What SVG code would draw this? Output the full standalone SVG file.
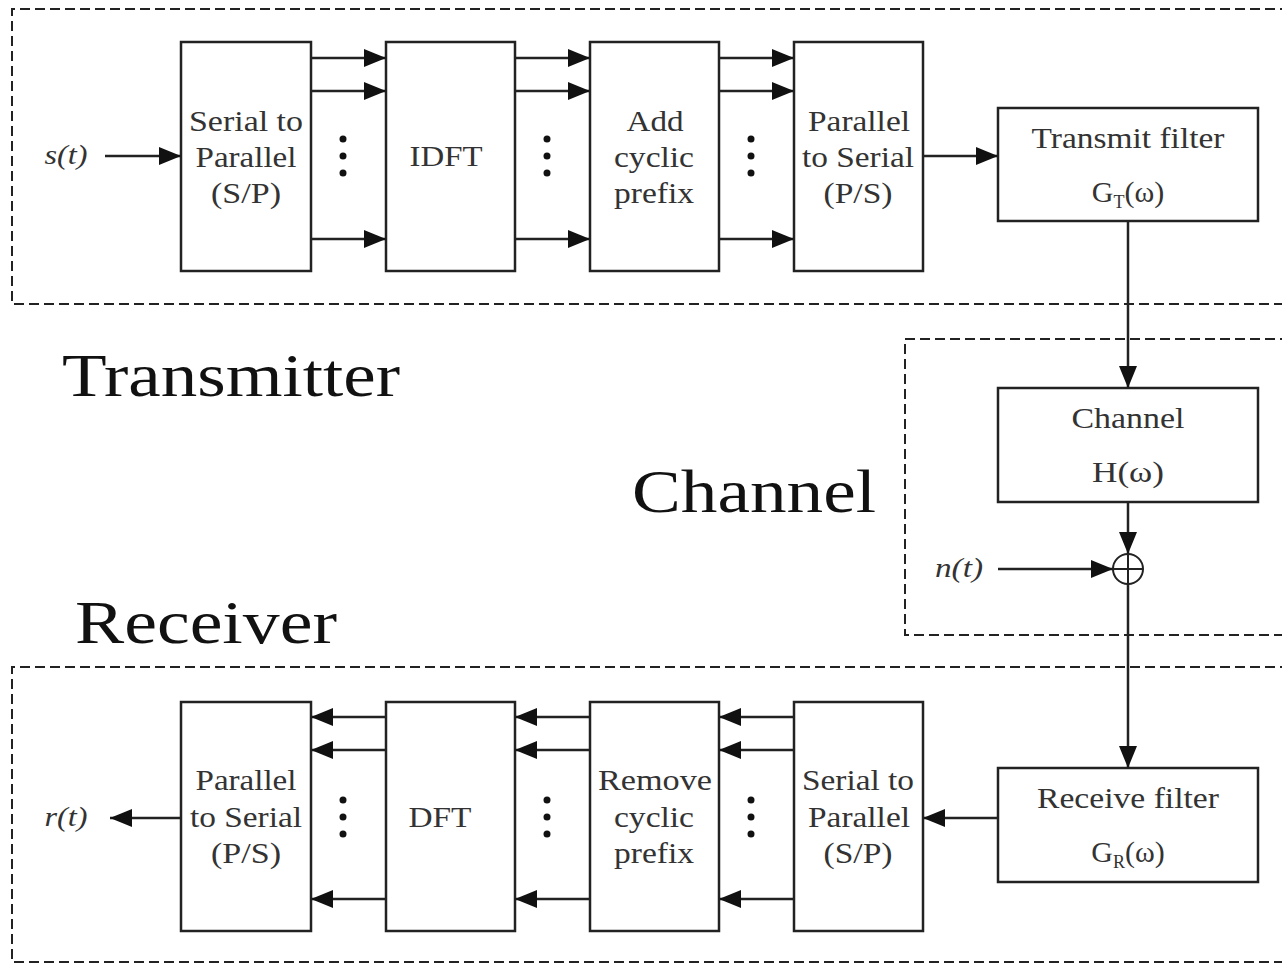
<svg xmlns="http://www.w3.org/2000/svg" width="1282" height="964" viewBox="0 0 1282 964">
<style>
.dash{fill:none;stroke:#222;stroke-width:2;stroke-dasharray:10 5}
.box{fill:#fff;stroke:#222;stroke-width:2.5}
.ln{fill:none;stroke:#222;stroke-width:2.5}
.t{font-family:"Liberation Serif","Times New Roman",serif;font-size:30px;fill:#333;text-anchor:middle}
.it{font-family:"Liberation Serif","Times New Roman",serif;font-size:27px;font-style:italic;fill:#333;text-anchor:middle}
.big{font-family:"Liberation Serif","Times New Roman",serif;font-size:62px;fill:#111}
.dot{fill:#111}
</style>
<defs>
<marker id="ah" viewBox="0 0 22 18" refX="22" refY="9" markerWidth="22" markerHeight="18" markerUnits="userSpaceOnUse" orient="auto">
<path d="M0,0 L22,9 L0,18 Z" fill="#111"/>
</marker>
</defs>
<rect width="1282" height="964" fill="#fff"/>

<!-- section frames -->
<g id="frames">
<path class="dash" d="M1290,9 H12 V304 H1290"/>
<path class="dash" d="M1290,339 H905 V635 H1290"/>
<path class="dash" d="M1290,667 H12 V962 H1290"/>
</g>

<g id="labels">
<text class="big" x="62" y="396" textLength="338" lengthAdjust="spacingAndGlyphs">Transmitter</text>
<text class="big" x="632" y="512" textLength="244" lengthAdjust="spacingAndGlyphs">Channel</text>
<text class="big" x="75" y="643" textLength="262" lengthAdjust="spacingAndGlyphs">Receiver</text>
<text class="it" x="66" y="164" textLength="43" lengthAdjust="spacingAndGlyphs">s(t)</text>
<text class="it" x="66" y="826" textLength="43" lengthAdjust="spacingAndGlyphs">r(t)</text>
<text class="it" x="959" y="577" textLength="48" lengthAdjust="spacingAndGlyphs">n(t)</text>
</g>

<!-- transmitter nodes -->
<g id="tx-sp">
<rect class="box" x="181" y="42" width="130" height="229"/>
<text class="t" x="246" y="131" textLength="114" lengthAdjust="spacingAndGlyphs">Serial to</text>
<text class="t" x="246" y="167" textLength="101" lengthAdjust="spacingAndGlyphs">Parallel</text>
<text class="t" x="246" y="203" textLength="70" lengthAdjust="spacingAndGlyphs">(S/P)</text>
</g>
<g id="tx-idft">
<rect class="box" x="386" y="42" width="129" height="229"/>
<text class="t" x="446" y="166" textLength="73" lengthAdjust="spacingAndGlyphs">IDFT</text>
</g>
<g id="tx-acp">
<rect class="box" x="590" y="42" width="129" height="229"/>
<text class="t" x="655" y="131" textLength="57" lengthAdjust="spacingAndGlyphs">Add</text>
<text class="t" x="654" y="167" textLength="80" lengthAdjust="spacingAndGlyphs">cyclic</text>
<text class="t" x="654" y="203" textLength="80" lengthAdjust="spacingAndGlyphs">prefix</text>
</g>
<g id="tx-ps">
<rect class="box" x="794" y="42" width="129" height="229"/>
<text class="t" x="859" y="131" textLength="102" lengthAdjust="spacingAndGlyphs">Parallel</text>
<text class="t" x="858" y="167" textLength="112" lengthAdjust="spacingAndGlyphs">to Serial</text>
<text class="t" x="858" y="203" textLength="69" lengthAdjust="spacingAndGlyphs">(P/S)</text>
</g>
<g id="tx-filter">
<rect class="box" x="998" y="108" width="260" height="113"/>
<text class="t" x="1128" y="148" textLength="193" lengthAdjust="spacingAndGlyphs">Transmit filter</text>
<text class="t" x="1128" y="202">G<tspan font-size="18" dy="6">T</tspan><tspan dy="-6">(ω)</tspan></text>
</g>

<!-- channel nodes -->
<g id="ch-box">
<rect class="box" x="998" y="388" width="260" height="114"/>
<text class="t" x="1128" y="428" textLength="113" lengthAdjust="spacingAndGlyphs">Channel</text>
<text class="t" x="1128" y="482" textLength="72" lengthAdjust="spacingAndGlyphs">H(ω)</text>
</g>
<g id="ch-sum">
<circle cx="1128" cy="569" r="15" fill="#fff" stroke="#222" stroke-width="2"/>
<path d="M1113,569 H1143 M1128,554 V584" stroke="#222" stroke-width="2"/>
</g>

<!-- receiver nodes -->
<g id="rx-filter">
<rect class="box" x="998" y="768" width="260" height="114"/>
<text class="t" x="1128" y="808" textLength="182" lengthAdjust="spacingAndGlyphs">Receive filter</text>
<text class="t" x="1128" y="862">G<tspan font-size="18" dy="6">R</tspan><tspan dy="-6">(ω)</tspan></text>
</g>
<g id="rx-sp">
<rect class="box" x="794" y="702" width="129" height="229"/>
<text class="t" x="858" y="790" textLength="112" lengthAdjust="spacingAndGlyphs">Serial to</text>
<text class="t" x="859" y="827" textLength="102" lengthAdjust="spacingAndGlyphs">Parallel</text>
<text class="t" x="858" y="863" textLength="69" lengthAdjust="spacingAndGlyphs">(S/P)</text>
</g>
<g id="rx-rcp">
<rect class="box" x="590" y="702" width="129" height="229"/>
<text class="t" x="655" y="790" textLength="114" lengthAdjust="spacingAndGlyphs">Remove</text>
<text class="t" x="654" y="827" textLength="80" lengthAdjust="spacingAndGlyphs">cyclic</text>
<text class="t" x="654" y="863" textLength="80" lengthAdjust="spacingAndGlyphs">prefix</text>
</g>
<g id="rx-dft">
<rect class="box" x="386" y="702" width="129" height="229"/>
<text class="t" x="440" y="827" textLength="63" lengthAdjust="spacingAndGlyphs">DFT</text>
</g>
<g id="rx-ps">
<rect class="box" x="181" y="702" width="130" height="229"/>
<text class="t" x="246" y="790" textLength="101" lengthAdjust="spacingAndGlyphs">Parallel</text>
<text class="t" x="246" y="827" textLength="112" lengthAdjust="spacingAndGlyphs">to Serial</text>
<text class="t" x="246" y="863" textLength="70" lengthAdjust="spacingAndGlyphs">(P/S)</text>
</g>

<!-- connectors -->
<g id="connectors" class="ln" marker-end="url(#ah)">
<path d="M105,156 H181"/>
<path d="M311,58 H386"/><path d="M311,91 H386"/><path d="M311,239 H386"/>
<path d="M515,58 H590"/><path d="M515,91 H590"/><path d="M515,239 H590"/>
<path d="M719,58 H794"/><path d="M719,91 H794"/><path d="M719,239 H794"/>
<path d="M923,156 H998"/>
<path d="M1128,221 V388"/>
<path d="M1128,502 V554"/>
<path d="M998,569 H1113"/>
<path d="M1128,584 V768"/>
<path d="M998,818 H923"/>
<path d="M794,717 H719"/><path d="M794,750 H719"/><path d="M794,899 H719"/>
<path d="M590,717 H515"/><path d="M590,750 H515"/><path d="M590,899 H515"/>
<path d="M386,717 H311"/><path d="M386,750 H311"/><path d="M386,899 H311"/>
<path d="M181,818 H110"/>
</g>

<g id="ellipses">
<circle class="dot" cx="343" cy="139" r="3.5"/><circle class="dot" cx="343" cy="156" r="3.5"/><circle class="dot" cx="343" cy="173" r="3.5"/>
<circle class="dot" cx="547" cy="139" r="3.5"/><circle class="dot" cx="547" cy="156" r="3.5"/><circle class="dot" cx="547" cy="173" r="3.5"/>
<circle class="dot" cx="751" cy="139" r="3.5"/><circle class="dot" cx="751" cy="156" r="3.5"/><circle class="dot" cx="751" cy="173" r="3.5"/>
<circle class="dot" cx="343" cy="800" r="3.5"/><circle class="dot" cx="343" cy="817" r="3.5"/><circle class="dot" cx="343" cy="834" r="3.5"/>
<circle class="dot" cx="547" cy="800" r="3.5"/><circle class="dot" cx="547" cy="817" r="3.5"/><circle class="dot" cx="547" cy="834" r="3.5"/>
<circle class="dot" cx="751" cy="800" r="3.5"/><circle class="dot" cx="751" cy="817" r="3.5"/><circle class="dot" cx="751" cy="834" r="3.5"/>
</g>
</svg>
